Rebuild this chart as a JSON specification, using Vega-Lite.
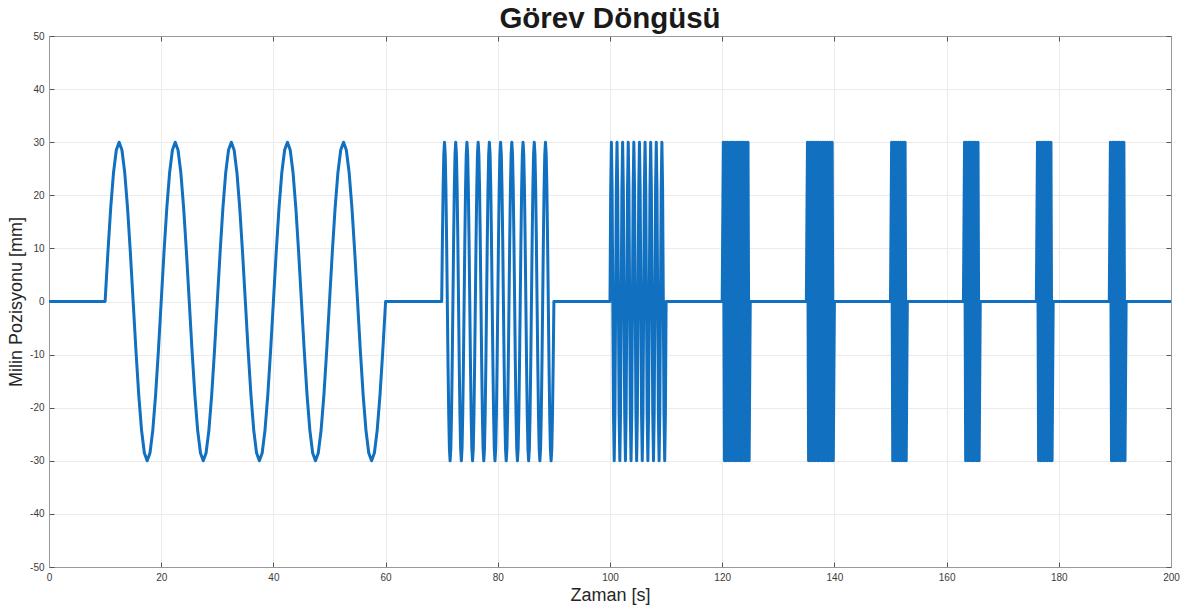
{
  "$schema": "https://vega.github.io/schema/vega-lite/v6.json",
  "width": 1122,
  "height": 531,
  "autosize": {"type": "none"},
  "padding": {"left": 49, "top": 36, "right": 16, "bottom": 45},
  "background": "white",
  "title": {"text": "Görev Döngüsü", "fontSize": 29.5, "fontWeight": "bold", "font": "Liberation Sans", "color": "#1a1a1a", "anchor": "middle", "frame": "group", "offset": -3},
  "config": {
    "view": {"stroke": "#9a9a9a", "strokeWidth": 1},
    "axis": {"labelFont": "Liberation Sans", "titleFont": "Liberation Sans", "labelFontSize": 10, "labelColor": "#3a3a3a", "titleFontSize": 18, "titleFontWeight": "normal", "titleColor": "#262626", "gridColor": "#ebebeb", "gridWidth": 1, "domainColor": "#9a9a9a", "tickColor": "#555555", "tickSize": -5, "labelFlush": false, "labelOverlap": false, "labelExpr": "datum.value + ''"}
  },
  "datasets": {
    "sig": [
      {"t":0,"v":0},
      {"t":10,"v":0},{"t":10.5,"v":9.27},{"t":11,"v":17.63},{"t":11.5,"v":24.27},{"t":12,"v":28.53},{"t":12.5,"v":30},{"t":13,"v":28.53},{"t":13.5,"v":24.27},{"t":14,"v":17.63},{"t":14.5,"v":9.27},
      {"t":15,"v":0},{"t":15.5,"v":-9.27},{"t":16,"v":-17.63},{"t":16.5,"v":-24.27},{"t":17,"v":-28.53},{"t":17.5,"v":-30},{"t":18,"v":-28.53},{"t":18.5,"v":-24.27},{"t":19,"v":-17.63},{"t":19.5,"v":-9.27},
      {"t":20,"v":0},{"t":20.5,"v":9.27},{"t":21,"v":17.63},{"t":21.5,"v":24.27},{"t":22,"v":28.53},{"t":22.5,"v":30},{"t":23,"v":28.53},{"t":23.5,"v":24.27},{"t":24,"v":17.63},{"t":24.5,"v":9.27},
      {"t":25,"v":0},{"t":25.5,"v":-9.27},{"t":26,"v":-17.63},{"t":26.5,"v":-24.27},{"t":27,"v":-28.53},{"t":27.5,"v":-30},{"t":28,"v":-28.53},{"t":28.5,"v":-24.27},{"t":29,"v":-17.63},{"t":29.5,"v":-9.27},
      {"t":30,"v":0},{"t":30.5,"v":9.27},{"t":31,"v":17.63},{"t":31.5,"v":24.27},{"t":32,"v":28.53},{"t":32.5,"v":30},{"t":33,"v":28.53},{"t":33.5,"v":24.27},{"t":34,"v":17.63},{"t":34.5,"v":9.27},
      {"t":35,"v":0},{"t":35.5,"v":-9.27},{"t":36,"v":-17.63},{"t":36.5,"v":-24.27},{"t":37,"v":-28.53},{"t":37.5,"v":-30},{"t":38,"v":-28.53},{"t":38.5,"v":-24.27},{"t":39,"v":-17.63},{"t":39.5,"v":-9.27},
      {"t":40,"v":0},{"t":40.5,"v":9.27},{"t":41,"v":17.63},{"t":41.5,"v":24.27},{"t":42,"v":28.53},{"t":42.5,"v":30},{"t":43,"v":28.53},{"t":43.5,"v":24.27},{"t":44,"v":17.63},{"t":44.5,"v":9.27},
      {"t":45,"v":0},{"t":45.5,"v":-9.27},{"t":46,"v":-17.63},{"t":46.5,"v":-24.27},{"t":47,"v":-28.53},{"t":47.5,"v":-30},{"t":48,"v":-28.53},{"t":48.5,"v":-24.27},{"t":49,"v":-17.63},{"t":49.5,"v":-9.27},
      {"t":50,"v":0},{"t":50.5,"v":9.27},{"t":51,"v":17.63},{"t":51.5,"v":24.27},{"t":52,"v":28.53},{"t":52.5,"v":30},{"t":53,"v":28.53},{"t":53.5,"v":24.27},{"t":54,"v":17.63},{"t":54.5,"v":9.27},
      {"t":55,"v":0},{"t":55.5,"v":-9.27},{"t":56,"v":-17.63},{"t":56.5,"v":-24.27},{"t":57,"v":-28.53},{"t":57.5,"v":-30},{"t":58,"v":-28.53},{"t":58.5,"v":-24.27},{"t":59,"v":-17.63},{"t":59.5,"v":-9.27},
      {"t":60,"v":0},
      {"t":70,"v":0},{"t":70.125,"v":11.48},{"t":70.25,"v":21.21},{"t":70.375,"v":27.72},{"t":70.5,"v":30},{"t":70.625,"v":27.72},{"t":70.75,"v":21.21},{"t":70.875,"v":11.48},
      {"t":71,"v":0},{"t":71.125,"v":-11.48},{"t":71.25,"v":-21.21},{"t":71.375,"v":-27.72},{"t":71.5,"v":-30},{"t":71.625,"v":-27.72},{"t":71.75,"v":-21.21},{"t":71.875,"v":-11.48},
      {"t":72,"v":0},{"t":72.125,"v":11.48},{"t":72.25,"v":21.21},{"t":72.375,"v":27.72},{"t":72.5,"v":30},{"t":72.625,"v":27.72},{"t":72.75,"v":21.21},{"t":72.875,"v":11.48},
      {"t":73,"v":0},{"t":73.125,"v":-11.48},{"t":73.25,"v":-21.21},{"t":73.375,"v":-27.72},{"t":73.5,"v":-30},{"t":73.625,"v":-27.72},{"t":73.75,"v":-21.21},{"t":73.875,"v":-11.48},
      {"t":74,"v":0},{"t":74.125,"v":11.48},{"t":74.25,"v":21.21},{"t":74.375,"v":27.72},{"t":74.5,"v":30},{"t":74.625,"v":27.72},{"t":74.75,"v":21.21},{"t":74.875,"v":11.48},
      {"t":75,"v":0},{"t":75.125,"v":-11.48},{"t":75.25,"v":-21.21},{"t":75.375,"v":-27.72},{"t":75.5,"v":-30},{"t":75.625,"v":-27.72},{"t":75.75,"v":-21.21},{"t":75.875,"v":-11.48},
      {"t":76,"v":0},{"t":76.125,"v":11.48},{"t":76.25,"v":21.21},{"t":76.375,"v":27.72},{"t":76.5,"v":30},{"t":76.625,"v":27.72},{"t":76.75,"v":21.21},{"t":76.875,"v":11.48},
      {"t":77,"v":0},{"t":77.125,"v":-11.48},{"t":77.25,"v":-21.21},{"t":77.375,"v":-27.72},{"t":77.5,"v":-30},{"t":77.625,"v":-27.72},{"t":77.75,"v":-21.21},{"t":77.875,"v":-11.48},
      {"t":78,"v":0},{"t":78.125,"v":11.48},{"t":78.25,"v":21.21},{"t":78.375,"v":27.72},{"t":78.5,"v":30},{"t":78.625,"v":27.72},{"t":78.75,"v":21.21},{"t":78.875,"v":11.48},
      {"t":79,"v":0},{"t":79.125,"v":-11.48},{"t":79.25,"v":-21.21},{"t":79.375,"v":-27.72},{"t":79.5,"v":-30},{"t":79.625,"v":-27.72},{"t":79.75,"v":-21.21},{"t":79.875,"v":-11.48},
      {"t":80,"v":0},{"t":80.125,"v":11.48},{"t":80.25,"v":21.21},{"t":80.375,"v":27.72},{"t":80.5,"v":30},{"t":80.625,"v":27.72},{"t":80.75,"v":21.21},{"t":80.875,"v":11.48},
      {"t":81,"v":0},{"t":81.125,"v":-11.48},{"t":81.25,"v":-21.21},{"t":81.375,"v":-27.72},{"t":81.5,"v":-30},{"t":81.625,"v":-27.72},{"t":81.75,"v":-21.21},{"t":81.875,"v":-11.48},
      {"t":82,"v":0},{"t":82.125,"v":11.48},{"t":82.25,"v":21.21},{"t":82.375,"v":27.72},{"t":82.5,"v":30},{"t":82.625,"v":27.72},{"t":82.75,"v":21.21},{"t":82.875,"v":11.48},
      {"t":83,"v":0},{"t":83.125,"v":-11.48},{"t":83.25,"v":-21.21},{"t":83.375,"v":-27.72},{"t":83.5,"v":-30},{"t":83.625,"v":-27.72},{"t":83.75,"v":-21.21},{"t":83.875,"v":-11.48},
      {"t":84,"v":0},{"t":84.125,"v":11.48},{"t":84.25,"v":21.21},{"t":84.375,"v":27.72},{"t":84.5,"v":30},{"t":84.625,"v":27.72},{"t":84.75,"v":21.21},{"t":84.875,"v":11.48},
      {"t":85,"v":0},{"t":85.125,"v":-11.48},{"t":85.25,"v":-21.21},{"t":85.375,"v":-27.72},{"t":85.5,"v":-30},{"t":85.625,"v":-27.72},{"t":85.75,"v":-21.21},{"t":85.875,"v":-11.48},
      {"t":86,"v":0},{"t":86.125,"v":11.48},{"t":86.25,"v":21.21},{"t":86.375,"v":27.72},{"t":86.5,"v":30},{"t":86.625,"v":27.72},{"t":86.75,"v":21.21},{"t":86.875,"v":11.48},
      {"t":87,"v":0},{"t":87.125,"v":-11.48},{"t":87.25,"v":-21.21},{"t":87.375,"v":-27.72},{"t":87.5,"v":-30},{"t":87.625,"v":-27.72},{"t":87.75,"v":-21.21},{"t":87.875,"v":-11.48},
      {"t":88,"v":0},{"t":88.125,"v":11.48},{"t":88.25,"v":21.21},{"t":88.375,"v":27.72},{"t":88.5,"v":30},{"t":88.625,"v":27.72},{"t":88.75,"v":21.21},{"t":88.875,"v":11.48},
      {"t":89,"v":0},{"t":89.125,"v":-11.48},{"t":89.25,"v":-21.21},{"t":89.375,"v":-27.72},{"t":89.5,"v":-30},{"t":89.625,"v":-27.72},{"t":89.75,"v":-21.21},{"t":89.875,"v":-11.48},
      {"t":90,"v":0},
      {"t":100,"v":0},{"t":100.125,"v":21.21},{"t":100.25,"v":30},{"t":100.375,"v":21.21},{"t":100.5,"v":0},{"t":100.625,"v":-21.21},{"t":100.75,"v":-30},{"t":100.875,"v":-21.21},
      {"t":101,"v":0},{"t":101.125,"v":21.21},{"t":101.25,"v":30},{"t":101.375,"v":21.21},{"t":101.5,"v":0},{"t":101.625,"v":-21.21},{"t":101.75,"v":-30},{"t":101.875,"v":-21.21},
      {"t":102,"v":0},{"t":102.125,"v":21.21},{"t":102.25,"v":30},{"t":102.375,"v":21.21},{"t":102.5,"v":0},{"t":102.625,"v":-21.21},{"t":102.75,"v":-30},{"t":102.875,"v":-21.21},
      {"t":103,"v":0},{"t":103.125,"v":21.21},{"t":103.25,"v":30},{"t":103.375,"v":21.21},{"t":103.5,"v":0},{"t":103.625,"v":-21.21},{"t":103.75,"v":-30},{"t":103.875,"v":-21.21},
      {"t":104,"v":0},{"t":104.125,"v":21.21},{"t":104.25,"v":30},{"t":104.375,"v":21.21},{"t":104.5,"v":0},{"t":104.625,"v":-21.21},{"t":104.75,"v":-30},{"t":104.875,"v":-21.21},
      {"t":105,"v":0},{"t":105.125,"v":21.21},{"t":105.25,"v":30},{"t":105.375,"v":21.21},{"t":105.5,"v":0},{"t":105.625,"v":-21.21},{"t":105.75,"v":-30},{"t":105.875,"v":-21.21},
      {"t":106,"v":0},{"t":106.125,"v":21.21},{"t":106.25,"v":30},{"t":106.375,"v":21.21},{"t":106.5,"v":0},{"t":106.625,"v":-21.21},{"t":106.75,"v":-30},{"t":106.875,"v":-21.21},
      {"t":107,"v":0},{"t":107.125,"v":21.21},{"t":107.25,"v":30},{"t":107.375,"v":21.21},{"t":107.5,"v":0},{"t":107.625,"v":-21.21},{"t":107.75,"v":-30},{"t":107.875,"v":-21.21},
      {"t":108,"v":0},{"t":108.125,"v":21.21},{"t":108.25,"v":30},{"t":108.375,"v":21.21},{"t":108.5,"v":0},{"t":108.625,"v":-21.21},{"t":108.75,"v":-30},{"t":108.875,"v":-21.21},
      {"t":109,"v":0},{"t":109.125,"v":21.21},{"t":109.25,"v":30},{"t":109.375,"v":21.21},{"t":109.5,"v":0},{"t":109.625,"v":-21.21},{"t":109.75,"v":-30},{"t":109.875,"v":-21.21},
      {"t":110,"v":0},
      {"t":120,"v":0},{"t":120.2,"v":30},{"t":120.4,"v":-30},{"t":120.6,"v":30},{"t":120.8,"v":-30},{"t":121,"v":30},{"t":121.2,"v":-30},{"t":121.4,"v":30},{"t":121.6,"v":-30},{"t":121.8,"v":30},{"t":122,"v":-30},{"t":122.2,"v":30},{"t":122.4,"v":-30},{"t":122.6,"v":30},{"t":122.8,"v":-30},{"t":123,"v":30},{"t":123.2,"v":-30},{"t":123.4,"v":30},{"t":123.6,"v":-30},{"t":123.8,"v":30},{"t":124,"v":-30},{"t":124.2,"v":30},{"t":124.4,"v":-30},{"t":124.6,"v":30},{"t":124.8,"v":-30},{"t":125,"v":0},
      {"t":135,"v":0},{"t":135.2,"v":30},{"t":135.4,"v":-30},{"t":135.6,"v":30},{"t":135.8,"v":-30},{"t":136,"v":30},{"t":136.2,"v":-30},{"t":136.4,"v":30},{"t":136.6,"v":-30},{"t":136.8,"v":30},{"t":137,"v":-30},{"t":137.2,"v":30},{"t":137.4,"v":-30},{"t":137.6,"v":30},{"t":137.8,"v":-30},{"t":138,"v":30},{"t":138.2,"v":-30},{"t":138.4,"v":30},{"t":138.6,"v":-30},{"t":138.8,"v":30},{"t":139,"v":-30},{"t":139.2,"v":30},{"t":139.4,"v":-30},{"t":139.6,"v":30},{"t":139.8,"v":-30},{"t":140,"v":0},
      {"t":150,"v":0},{"t":150.2,"v":30},{"t":150.4,"v":-30},{"t":150.6,"v":30},{"t":150.8,"v":-30},{"t":151,"v":30},{"t":151.2,"v":-30},{"t":151.4,"v":30},{"t":151.6,"v":-30},{"t":151.8,"v":30},{"t":152,"v":-30},{"t":152.2,"v":30},{"t":152.4,"v":-30},{"t":152.6,"v":30},{"t":152.8,"v":-30},{"t":153,"v":0},
      {"t":163,"v":0},{"t":163.2,"v":30},{"t":163.4,"v":-30},{"t":163.6,"v":30},{"t":163.8,"v":-30},{"t":164,"v":30},{"t":164.2,"v":-30},{"t":164.4,"v":30},{"t":164.6,"v":-30},{"t":164.8,"v":30},{"t":165,"v":-30},{"t":165.2,"v":30},{"t":165.4,"v":-30},{"t":165.6,"v":30},{"t":165.8,"v":-30},{"t":166,"v":0},
      {"t":176,"v":0},{"t":176.2,"v":30},{"t":176.4,"v":-30},{"t":176.6,"v":30},{"t":176.8,"v":-30},{"t":177,"v":30},{"t":177.2,"v":-30},{"t":177.4,"v":30},{"t":177.6,"v":-30},{"t":177.8,"v":30},{"t":178,"v":-30},{"t":178.2,"v":30},{"t":178.4,"v":-30},{"t":178.6,"v":30},{"t":178.8,"v":-30},{"t":179,"v":0},
      {"t":189,"v":0},{"t":189.2,"v":30},{"t":189.4,"v":-30},{"t":189.6,"v":30},{"t":189.8,"v":-30},{"t":190,"v":30},{"t":190.2,"v":-30},{"t":190.4,"v":30},{"t":190.6,"v":-30},{"t":190.8,"v":30},{"t":191,"v":-30},{"t":191.2,"v":30},{"t":191.4,"v":-30},{"t":191.6,"v":30},{"t":191.8,"v":-30},{"t":192,"v":0},
      {"t":200,"v":0}
    ],
    "frame": [{"t":0,"v":-50},{"t":200,"v":50}]
  },
  "resolve": {"axis": {"x": "independent", "y": "independent"}},
  "layer": [
    {
      "data": {"name": "sig"},
      "mark": {"type": "line", "color": "#1170bf", "strokeWidth": 3, "strokeJoin": "round", "clip": true},
      "encoding": {
        "x": {"field": "t", "type": "quantitative", "scale": {"domain": [0, 200], "nice": false, "zero": false},
          "axis": {"orient": "bottom", "values": [0,20,40,60,80,100,120,140,160,180,200], "title": "Zaman [s]", "grid": true, "labelPadding": 10, "titlePadding": 4}},
        "y": {"field": "v", "type": "quantitative", "scale": {"domain": [-50, 50], "nice": false, "zero": false},
          "axis": {"orient": "left", "values": [-50,-40,-30,-20,-10,0,10,20,30,40,50], "title": "Milin Pozisyonu [mm]", "grid": true, "labelPadding": 10, "titlePadding": 4}}
      }
    },
    {
      "data": {"name": "frame"},
      "mark": {"type": "point", "opacity": 0},
      "encoding": {
        "x": {"field": "t", "type": "quantitative", "scale": {"domain": [0, 200], "nice": false, "zero": false},
          "axis": {"orient": "top", "values": [0,20,40,60,80,100,120,140,160,180,200], "title": null, "labels": false, "grid": false}},
        "y": {"field": "v", "type": "quantitative", "scale": {"domain": [-50, 50], "nice": false, "zero": false},
          "axis": {"orient": "right", "values": [-50,-40,-30,-20,-10,0,10,20,30,40,50], "title": null, "labels": false, "grid": false}}
      }
    }
  ]
}
